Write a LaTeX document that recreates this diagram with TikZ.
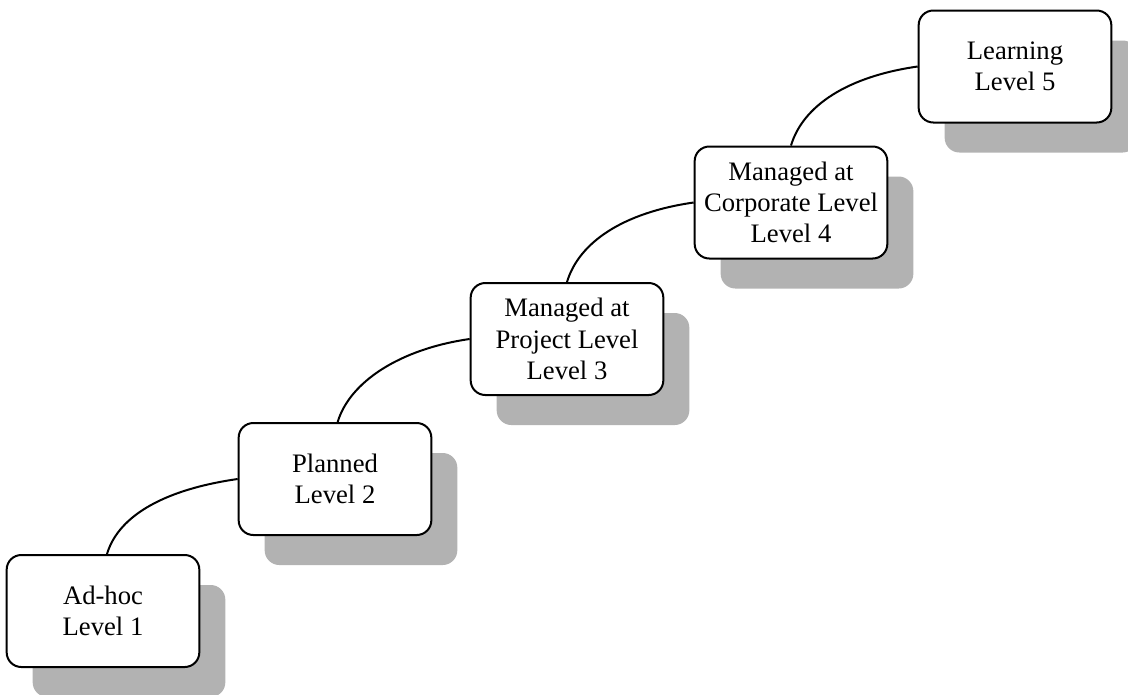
\documentclass[tikz,border=0pt]{standalone}
\usepackage{fontspec}
\setmainfont{Liberation Serif}
\usetikzlibrary{shadows}
\definecolor{shadowgray}{RGB}{178,178,178}
\tikzset{
  levelbox/.style={
    draw=black, line width=1.5pt, fill=white, rounded corners=11pt,
    minimum width=144.5pt, minimum height=84pt, inner sep=0pt,
    align=center, font=\fontsize{20}{23.5}\selectfont,
    drop shadow={shadow xshift=19.5pt, shadow yshift=-22.5pt,
                 fill=shadowgray, opacity=1}
  },
  stairlink/.style={line width=1.5pt, draw=black}
}
\begin{document}
\begin{tikzpicture}[x=0.75pt, y=-0.75pt]
  \useasboundingbox (0,0) rectangle (1128,694);
  \clip (0,0) rectangle (1128,694);

  % the five maturity levels
  \node[levelbox] (l1) at (103,611)  {Ad-hoc\\Level 1};
  \node[levelbox] (l2) at (335,479)  {Planned\\Level 2};
  \node[levelbox] (l3) at (567,339)  {Managed at\\Project Level\\Level 3};
  \node[levelbox] (l4) at (791,202.5){Managed at\\Corporate Level\\Level 4};
  \node[levelbox] (l5) at (1015,66.5){Learning\\Level 5};

  % curved steps between consecutive levels
  \draw[stairlink] ([xshift=3pt]l1.north) .. controls +(12,-40) and +(-70,10) .. (l2.west);
  \draw[stairlink] ([xshift=2pt]l2.north) .. controls +(12,-40) and +(-70,10) .. (l3.west);
  \draw[stairlink] (l3.north) .. controls +(12,-40) and +(-70,10) .. (l4.west);
  \draw[stairlink] (l4.north) .. controls +(12,-40) and +(-70,10) .. (l5.west);
\end{tikzpicture}
\end{document}
